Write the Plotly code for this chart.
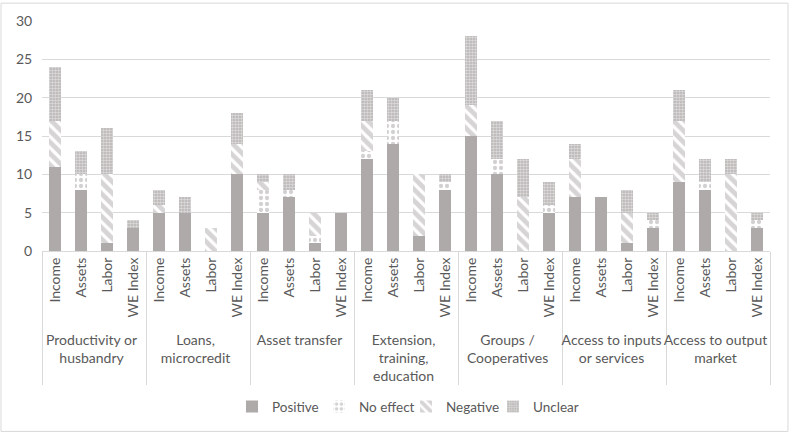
import plotly.graph_objects as go

GROUPS = [
    "Productivity or<br>husbandry",
    "Loans,<br>microcredit",
    "Asset transfer",
    "Extension,<br>training,<br>education",
    "Groups /<br>Cooperatives",
    "Access to inputs<br>or services",
    "Access to output<br>market",
]
OUTCOMES = ["Income", "Assets", "Labor", "WE Index"]

# one value per (group, outcome), in group order
positive = [11, 8, 1, 3, 5, 5, 0, 10, 5, 7, 1, 5, 12, 14, 2, 8, 15, 10, 0, 5, 7, 7, 1, 3, 9, 8, 0, 3]
no_effect = [0, 2, 0, 0, 0, 0, 0, 0, 3, 1, 1, 0, 1, 3, 0, 1, 0, 2, 0, 1, 0, 0, 0, 1, 0, 1, 0, 1]
negative = [6, 0, 9, 0, 1, 0, 3, 4, 1, 0, 3, 0, 4, 0, 8, 0, 4, 0, 7, 0, 5, 0, 4, 0, 8, 0, 10, 0]
unclear = [7, 3, 6, 1, 2, 2, 0, 4, 1, 2, 0, 0, 4, 3, 0, 1, 9, 5, 5, 3, 2, 0, 3, 1, 4, 3, 2, 1]

GREY = "#aeaaaa"
TEXT = "#595959"
LINE = "#d9d9d9"

x = [[g for g in GROUPS for _ in OUTCOMES], [o for _ in GROUPS for o in OUTCOMES]]

series = [
    ("Positive", positive, dict(color=GREY)),
    ("No effect", no_effect, dict(color="white", pattern=dict(shape=".", fgcolor="#a6a2a2", bgcolor="white", size=6, solidity=0.4))),
    ("Negative", negative, dict(color="white", pattern=dict(shape="\\", fgcolor=GREY, bgcolor="white", size=8, solidity=0.6))),
    # fine gray checker with white holes
    ("Unclear", unclear, dict(color=GREY, pattern=dict(shape=".", fgcolor="white", bgcolor="#b6b2b2", size=3, solidity=0.55))),
]

fig = go.Figure()
for name, vals, marker in series:
    fig.add_trace(go.Bar(x=x, y=vals, name=name, marker=dict(line=dict(width=0), **marker)))

fig.update_layout(
    width=790,
    height=435,
    barmode="stack",
    bargap=0.56,
    paper_bgcolor="white",
    plot_bgcolor="white",
    font=dict(family="Lato, Open Sans, sans-serif", size=14, color=TEXT),
    margin=dict(l=42, r=20, t=19, b=184),
    showlegend=True,
    legend=dict(orientation="h", x=0.5, xanchor="center", y=-0.677, yanchor="middle",
                font=dict(size=13.5, color=TEXT), traceorder="normal", itemwidth=30,
                entrywidth=42, entrywidthmode="pixels"),
    shapes=[dict(type="rect", xref="paper", yref="paper", x0=-0.0563, x1=1.0247, y0=-0.7845, y1=1.0776,
                 line=dict(color=LINE, width=1), fillcolor="rgba(0,0,0,0)", layer="below")],
)
fig.update_xaxes(
    type="multicategory",
    tickangle=-90,
    showline=True,
    linecolor=LINE,
    showdividers=True,
    dividercolor=LINE,
    dividerwidth=1,
    ticks="",
    tickfont=dict(size=14, color=TEXT),
)
fig.update_yaxes(
    range=[0, 30],
    dtick=5,
    showgrid=True,
    gridcolor=LINE,
    gridwidth=1,
    zeroline=False,
    showline=False,
    tickfont=dict(size=14, color=TEXT),
    ticks="outside",
    ticklen=6,
    tickcolor="white",
)

# drop the page's default body margin so the figure sits at the window's corner
fig.write_html("out.html", config={"displayModeBar": False},
               post_script="document.body.style.margin = '0';")
